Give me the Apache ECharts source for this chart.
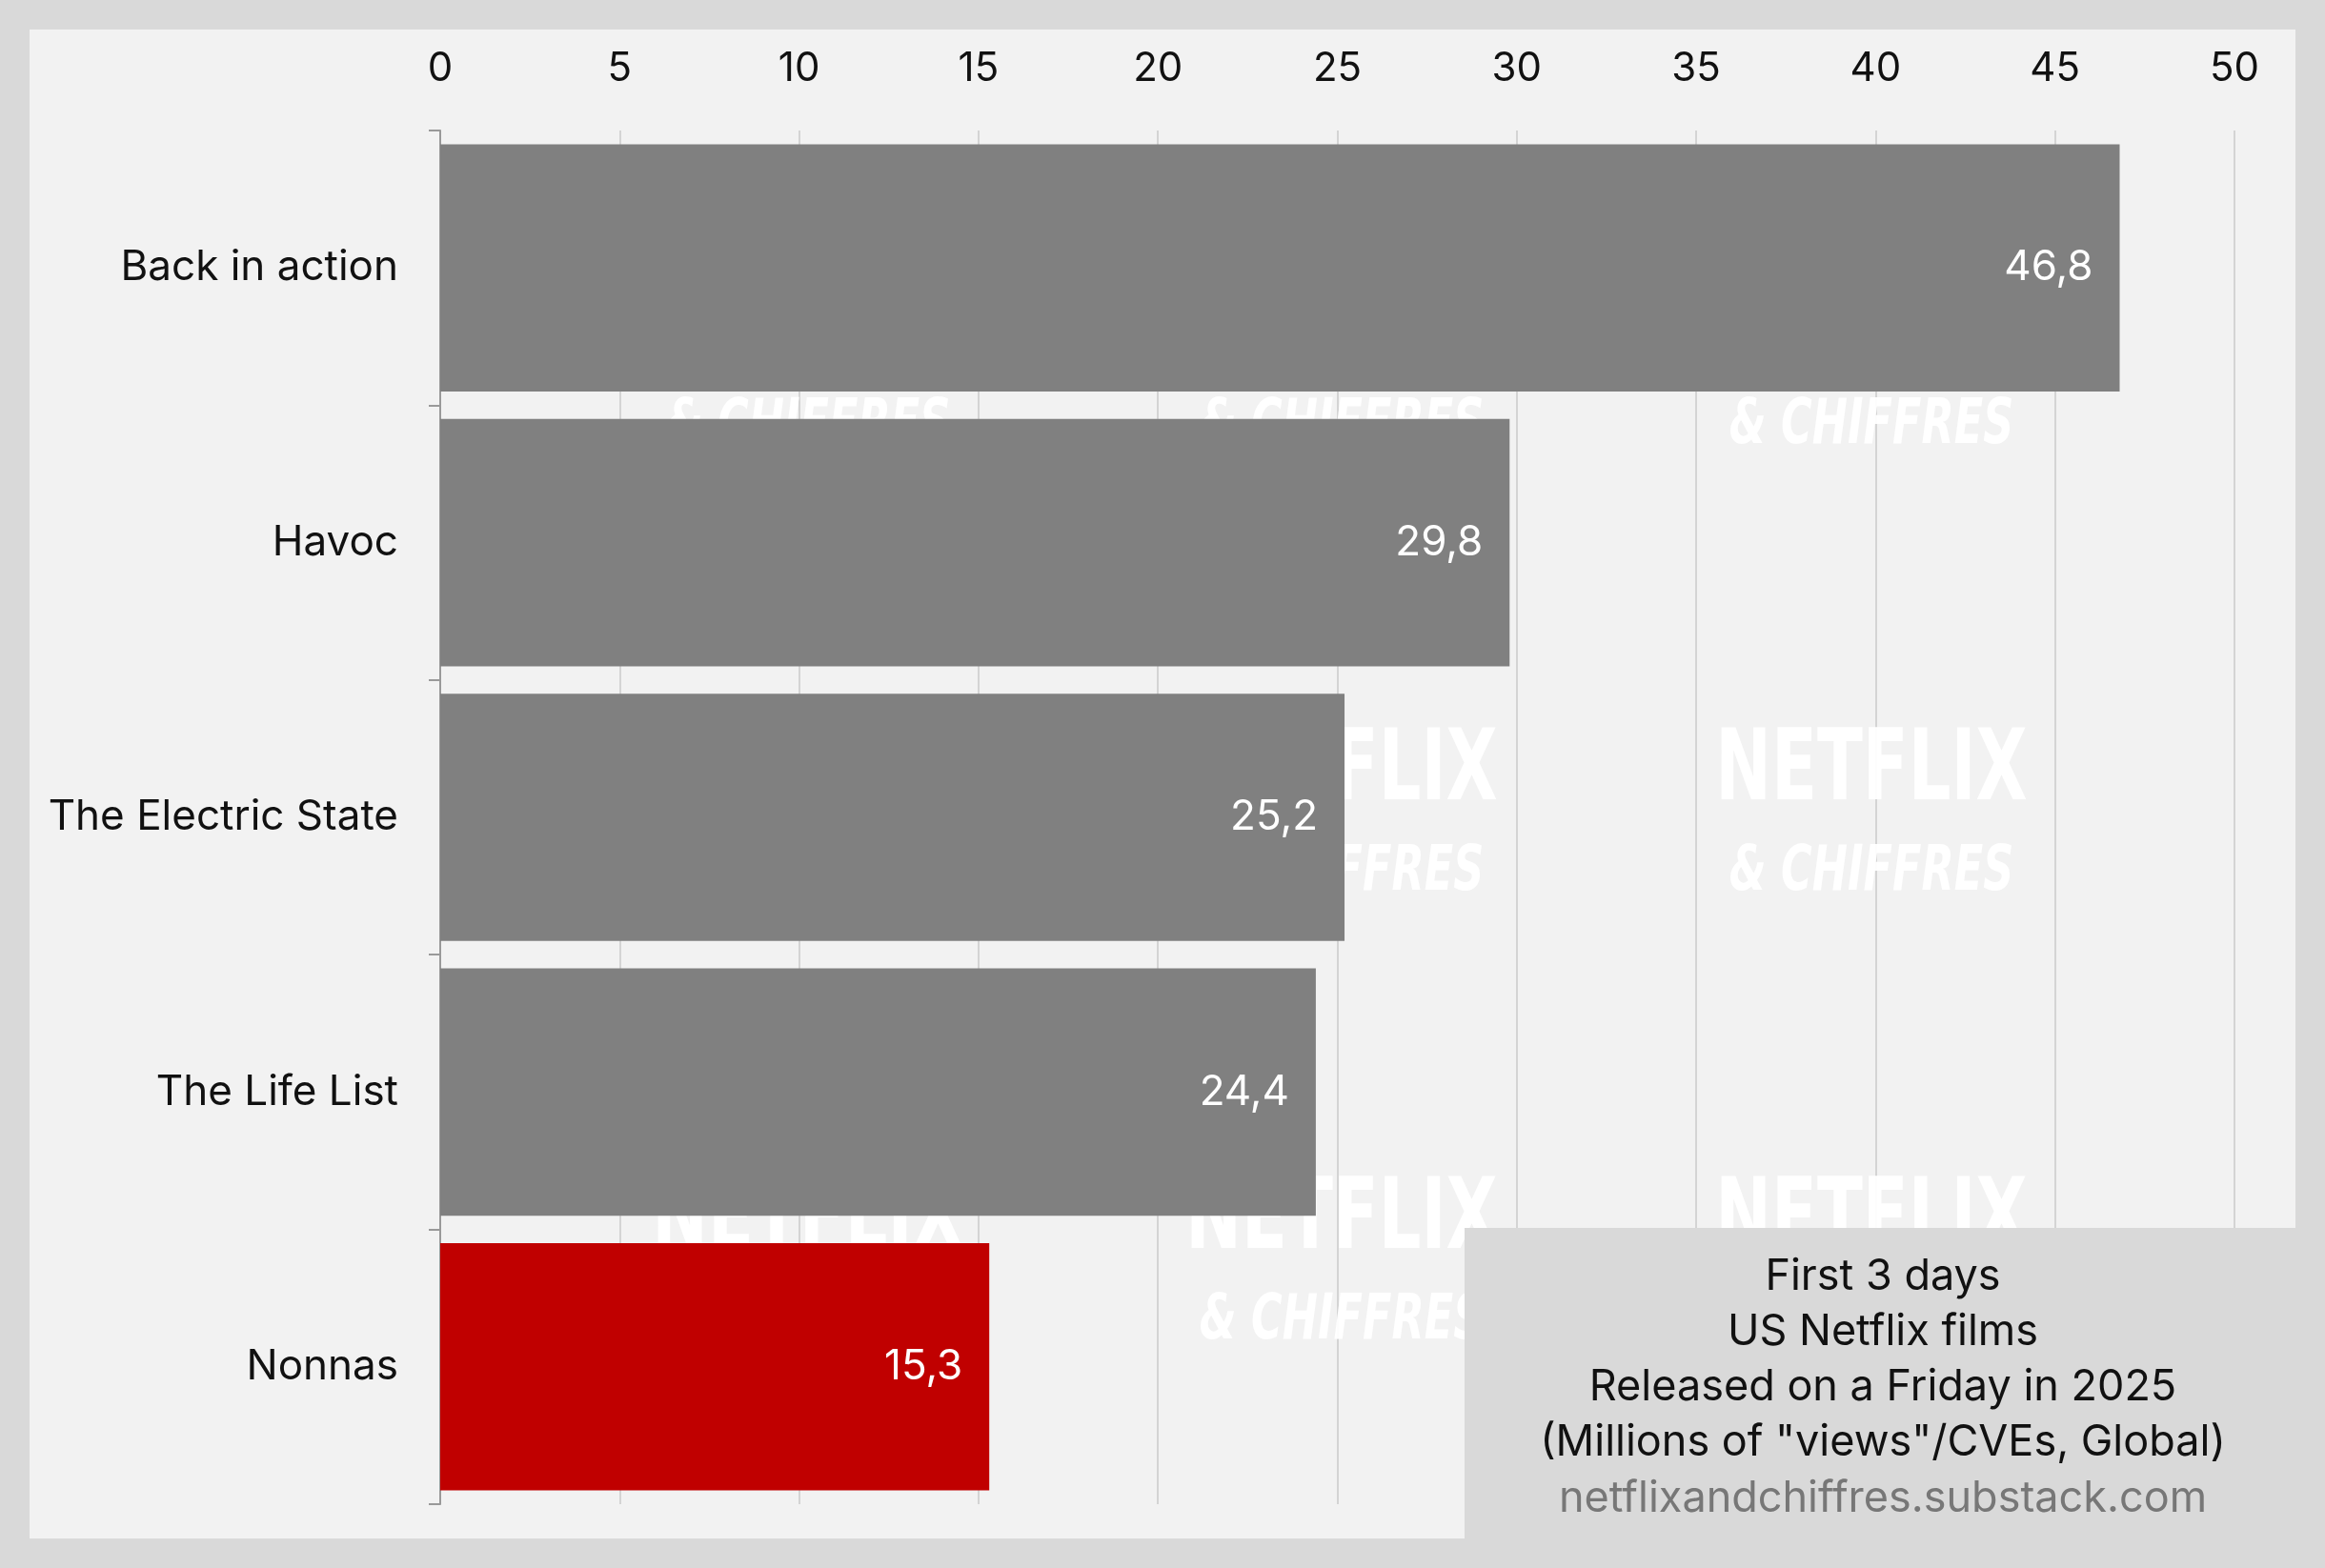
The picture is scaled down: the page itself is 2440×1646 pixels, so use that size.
<!DOCTYPE html>
<html><head><meta charset="utf-8">
<script src="https://cdn.jsdelivr.net/npm/echarts@6/dist/echarts.min.js"></script>
<style>html,body{margin:0;padding:0;background:#d9d9d9}#c{width:2440px;height:1646px}</style>
</head><body><div id="c"></div>
<script>
const categories = ['Back in action','Havoc','The Electric State','The Life List','Nonnas'];
const values = [46.8, 29.8, 25.2, 24.4, 15.3];
const highlight = 'Nonnas';
const xTicks = [0,5,10,15,20,25,30,35,40,45,50];
const noteLines = ['First 3 days','US Netflix films','Released on a Friday in 2025','(Millions of "views"/CVEs, Global)'];
const source = 'netflixandchiffres.substack.com';

const F = 'Inter, "Noto Sans", sans-serif';
const wm = [];
[848,1408,1964].forEach(x=>[343,812,1283].forEach(y=>{
  wm.push({type:'text',z:1,x:x,y:y,scaleX:0.75,style:{text:'NETFLIX',font:'bold 104px "DejaVu Sans Condensed", sans-serif',fill:'rgba(255,255,255,0.95)',align:'center',verticalAlign:'middle'}});
  wm.push({type:'text',z:1,x:x,y:y+105,scaleX:0.75,style:{text:'& CHIFFRES',font:'italic bold 66px "DejaVu Sans Condensed", sans-serif',fill:'rgba(255,255,255,0.95)',align:'center',verticalAlign:'middle'}});
}));
const chart = echarts.init(document.getElementById('c'));
chart.setOption({
  backgroundColor:'#d9d9d9',
  animation:false,
  graphic:[
    {type:'rect',z:0,shape:{x:31,y:31,width:2378,height:1584},style:{fill:'#f2f2f2'}},
    ...wm,
    {type:'rect',z:100,shape:{x:1537,y:1289,width:872,height:326},style:{fill:'#d9d9d9'}},
    ...noteLines.map((t,i)=>({type:'text',z:101,x:1976,y:1340+i*58,style:{text:t,font:'45px '+F,fill:'#111',align:'center',verticalAlign:'middle'}})),
    {type:'text',z:101,x:1976,y:1573,style:{text:source,font:'45px '+F,fill:'#777',align:'center',verticalAlign:'middle'}}
  ],
  grid:{left:462,right:95,top:137,bottom:67},
  xAxis:{type:'value',position:'top',min:0,max:50,interval:5,
    axisLine:{show:false},axisTick:{show:false},
    axisLabel:{fontSize:42,color:'#111',fontFamily:F,margin:44,formatter:v=>xTicks.includes(v)?String(v):''},
    splitLine:{lineStyle:{color:'#d4d4d4',width:2}}},
  yAxis:{type:'category',inverse:true,data:categories,
    axisLine:{lineStyle:{color:'#999',width:2}},
    axisTick:{show:true,length:12,lineStyle:{color:'#999',width:2}},
    axisLabel:{fontSize:44,color:'#111',fontFamily:F,margin:44}},
  series:[{type:'bar',z:5,barCategoryGap:'10%',
    data:categories.map((c,i)=>({value:values[i],itemStyle:{color:c===highlight?'#c00000':'#808080'}})),
    label:{show:true,position:'insideRight',distance:28,color:'#fff',fontSize:44,fontFamily:F,
      formatter:p=>String(p.value).replace('.',',')}}]
});
</script></body></html>
